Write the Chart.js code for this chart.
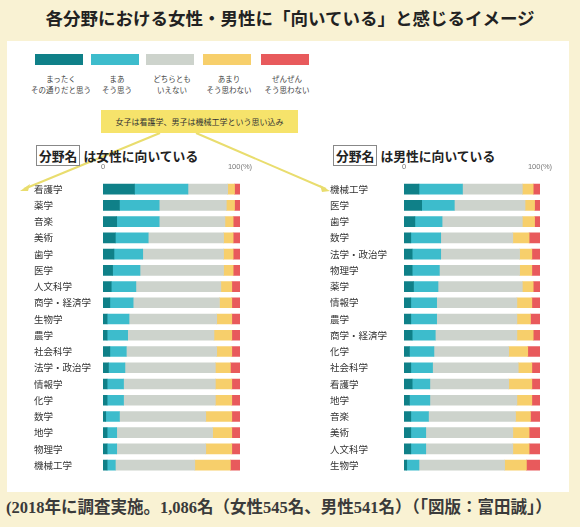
<!DOCTYPE html>
<html lang="ja">
<head>
<meta charset="utf-8">
<script src="https://cdn.jsdelivr.net/npm/chart.js@4/dist/chart.umd.min.js"></script>
<style>
  body { margin: 0; width: 580px; height: 527px; background: #f9f2d3; position: relative; overflow: hidden;
         font-family: "Noto Sans CJK JP", "Noto Sans", sans-serif; color: #222; }
  #title { position: absolute; left: 0; top: 5px; width: 580px; text-align: center; font-size: 17.5px; font-weight: bold; }
  #panel { position: absolute; left: 7px; top: 41px; width: 562px; height: 451px; background: #fff; }
  .sw { position: absolute; top: 54px; width: 48px; height: 11px; }
  .lg { position: absolute; top: 73px; width: 80px; text-align: center; font-size: 7.5px; line-height: 11px; color: #444; }
  #callout { position: absolute; left: 101px; top: 110px; width: 197px; height: 23px; background: #f6e36b;
             font-size: 8px; line-height: 23px; text-align: center; color: #333; }
  .sub { position: absolute; top: 146px; font-size: 12.8px; font-weight: bold; white-space: nowrap; }
  .sub span { border: 1px solid #888; padding: 0 2px; margin-right: 3px; }
  canvas { position: absolute; }
  #foot { position: absolute; left: 6px; top: 494px; font-family: "Liberation Serif", "Noto Sans CJK JP", serif;
          font-size: 16.5px; font-weight: bold; color: #3a3a3a; white-space: nowrap; }
  svg { position: absolute; left: 0; top: 0; }
</style>
</head>
<body>
<div id="title">各分野における女性・男性に「向いている」と感じるイメージ</div>
<div id="panel"></div>
<div id="legend"></div>
<svg width="580" height="527">
  <line x1="160" y1="133" x2="24" y2="189" stroke="#e9dd6e" stroke-width="2"/>
  <polygon points="20,191 30,184 28,191" fill="#e9dd6e"/>
  <line x1="196" y1="133" x2="326" y2="189" stroke="#e9dd6e" stroke-width="2"/>
  <polygon points="330,191 320,185 322,192" fill="#e9dd6e"/>
</svg>
<div id="callout">女子は看護学、男子は機械工学という思い込み</div>
<div class="sub" style="left:36px"><span>分野名</span>は女性に向いている</div>
<div class="sub" style="left:333px"><span>分野名</span>は男性に向いている</div>
<canvas id="femaleChart" style="left:34px;top:160px" width="222" height="322"></canvas>
<canvas id="maleChart" style="left:330px;top:160px" width="226" height="322"></canvas>
<div id="foot">(2018年に調査実施。1,086名（女性545名、男性541名）（｢図版：富田誠｣）</div>

<script>
// 凡例
const levelLabels = ['まったく\nその通りだと思う', 'まあ\nそう思う', 'どちらとも\nいえない', 'あまり\nそう思わない', 'ぜんぜん\nそう思わない'];
const levelColors = ['#0f8088', '#3dbccc', '#cdd3cc', '#f7cf6b', '#e85a5c'];

// 女性に向いている
const femaleCategories = ['看護学', '薬学', '音楽', '美術', '歯学', '医学', '人文科学', '商学・経済学', '生物学',
  '農学', '社会科学', '法学・政治学', '情報学', '化学', '数学', '地学', '物理学', '機械工学'];
const femaleStrongYes = [23, 12, 10, 9, 8, 7, 6, 5, 3, 3, 5, 4, 3, 3, 2, 3, 3, 3];
const femaleYes       = [39, 29, 31, 24, 21, 20, 18, 17, 16, 15, 12, 12, 12, 12, 10, 7, 7, 6];
const femaleNeutral   = [29, 49, 48, 55, 59, 61, 62, 63, 64, 63, 66, 66, 67, 67, 63, 70, 65, 58];
const femaleNo        = [5, 6, 6, 7, 7, 7, 8, 9, 11, 13, 11, 11, 12, 12, 19, 14, 19, 26];
const femaleStrongNo  = [4, 4, 5, 5, 5, 5, 6, 6, 6, 6, 6, 7, 6, 6, 6, 6, 6, 7];

// 男性に向いている
const maleCategories = ['機械工学', '医学', '歯学', '数学', '法学・政治学', '物理学', '薬学', '情報学', '農学',
  '商学・経済学', '化学', '社会科学', '看護学', '地学', '音楽', '美術', '人文科学', '生物学'];
const maleStrongYes = [11, 13, 8, 5, 6, 6, 7, 5, 5, 6, 4, 5, 6, 4, 5, 5, 5, 2];
const maleYes       = [32, 24, 20, 22, 21, 20, 18, 19, 19, 17, 18, 16, 13, 15, 13, 11, 11, 9];
const maleNeutral   = [44, 52, 59, 53, 58, 59, 62, 59, 59, 60, 55, 63, 58, 64, 64, 64, 64, 63];
const maleNo        = [8, 7, 9, 12, 9, 9, 8, 11, 10, 12, 14, 10, 17, 11, 11, 12, 12, 16];
const maleStrongNo  = [5, 4, 4, 8, 6, 6, 5, 6, 7, 5, 9, 6, 6, 6, 7, 8, 8, 10];

// HTML凡例
const legendX = [35, 91, 146, 203, 261];
const legendEl = document.getElementById('legend');
levelLabels.forEach((lab, i) => {
  const sw = document.createElement('div');
  sw.className = 'sw';
  sw.style.left = legendX[i] + 'px';
  sw.style.background = levelColors[i];
  legendEl.appendChild(sw);
  const t = document.createElement('div');
  t.className = 'lg';
  t.style.left = (legendX[i] + 26 - 40) + 'px';
  t.innerHTML = lab.replace('\n', '<br>');
  legendEl.appendChild(t);
});

function makeChart(id, categories, series, yWidth) {
  new Chart(document.getElementById(id), {
    type: 'bar',
    data: {
      labels: categories,
      datasets: series.map((d, i) => ({
        label: levelLabels[i].replace('\n', ''),
        data: d,
        backgroundColor: levelColors[i],
        borderWidth: 0,
        barThickness: 10
      }))
    },
    options: {
      indexAxis: 'y',
      responsive: false,
      animation: false,
      layout: { padding: { right: 16, top: 0, bottom: 6 } },
      plugins: { legend: { display: false }, tooltip: { enabled: false } },
      scales: {
        x: {
          stacked: true,
          position: 'top',
          min: 0,
          max: 100,
          afterFit: s => { s.height = 21; },
          grid: { display: false },
          border: { display: false },
          ticks: {
            stepSize: 100,
            autoSkip: false,
            maxRotation: 0,
            padding: 2,
            color: '#777',
            font: { size: 7.5 },
            callback: v => v === 100 ? '100(%)' : (v === 0 ? '0' : '')
          }
        },
        y: {
          stacked: true,
          afterFit: s => { s.width = yWidth; },
          grid: { display: false },
          border: { display: false },
          ticks: {
            crossAlign: 'far',
            color: '#333',
            font: { size: 9.5, family: '"Noto Sans CJK JP", sans-serif' }
          }
        }
      }
    }
  });
}

makeChart('femaleChart', femaleCategories,
  [femaleStrongYes, femaleYes, femaleNeutral, femaleNo, femaleStrongNo], 69);
makeChart('maleChart', maleCategories,
  [maleStrongYes, maleYes, maleNeutral, maleNo, maleStrongNo], 74);
</script>
</body>
</html>
